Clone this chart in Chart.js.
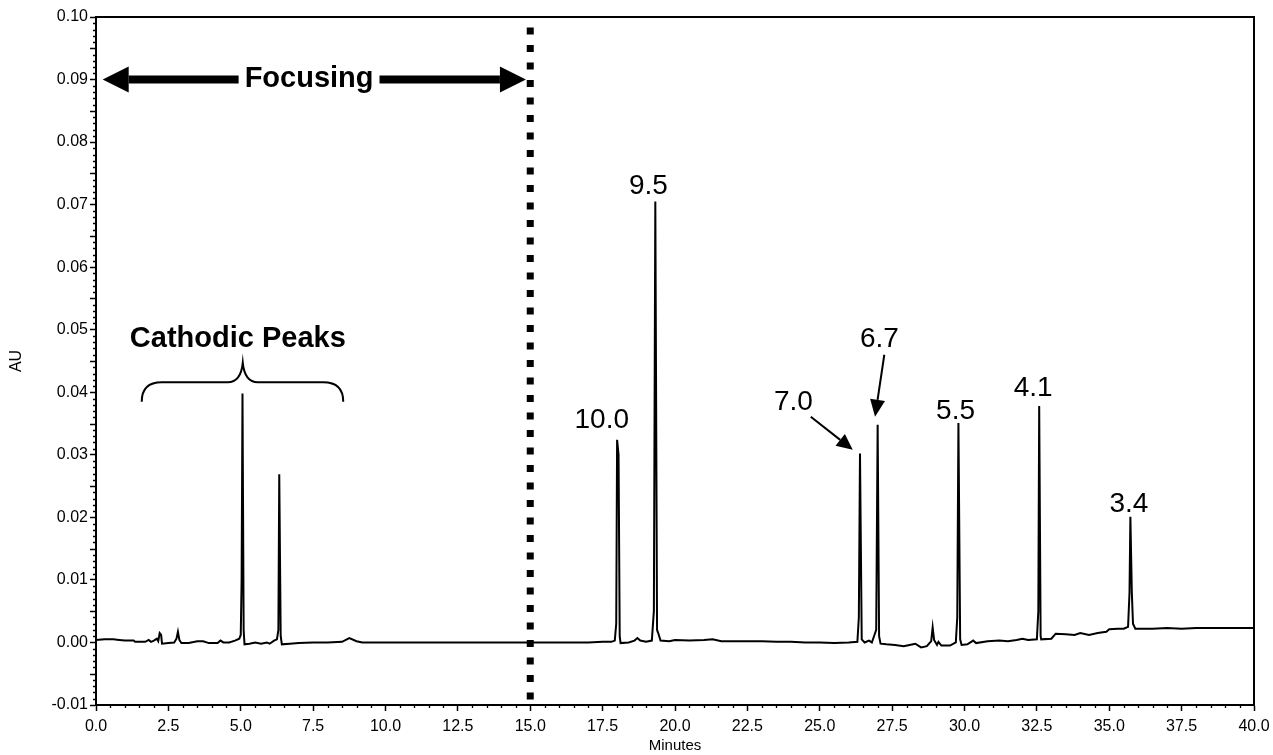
<!DOCTYPE html>
<html><head><meta charset="utf-8">
<script src="https://cdn.jsdelivr.net/npm/chart.js@4.4.1/dist/chart.umd.min.js"></script>
<style>html,body{margin:0;padding:0;background:#fff;}canvas{display:block;}</style>
</head><body>
<canvas id="c" width="1273" height="755"></canvas>
<script>
// ---- data ----
const minutes = [
 0.0,0.3,0.6,0.8,1.0,1.3,1.35,1.7,1.82,1.9,2.0,2.1,2.15,2.2,2.25,2.28,2.5,2.7,2.78,2.83,2.88,2.95,3.2,3.5,3.7,3.9,4.2,4.3,4.4,4.6,4.8,4.95,5.0,5.03,5.06,5.1,5.13,5.3,5.5,5.7,5.9,6.0,6.15,6.25,6.3,6.33,6.38,6.42,6.7,7.0,7.5,8.0,8.5,8.75,9.0,9.2,10.0,11.0,12.0,13.0,14.0,15.0,16.0,17.0,17.5,17.8,17.92,17.97,18.0,18.05,18.09,18.12,18.4,18.6,18.7,18.8,19.0,19.2,19.27,19.32,19.38,19.42,19.5,19.8,20.0,20.5,21.0,21.3,21.6,22.0,22.5,23.0,23.5,24.0,24.5,25.0,25.5,26.0,26.3,26.35,26.39,26.45,26.55,26.7,26.8,26.95,27.0,27.05,27.1,27.3,27.6,27.9,28.1,28.3,28.5,28.7,28.85,28.9,28.95,29.05,29.1,29.2,29.5,29.7,29.75,29.79,29.85,29.9,30.1,30.3,30.4,30.8,31.2,31.5,31.8,32.0,32.2,32.5,32.55,32.58,32.63,32.65,33.0,33.15,33.5,33.8,34.0,34.3,34.6,34.9,35.0,35.3,35.5,35.65,35.7,35.73,35.78,35.82,35.9,36.5,37.0,37.5,38.0,40.0
];
const absorbance = [
 0.0004,0.0005,0.0005,0.0004,0.0003,0.0003,0.0001,0.0001,0.0004,0.0001,0.0003,0.0006,0.0002,0.0015,0.0012,-0.0002,-0.0001,0.0000,0.0006,0.0017,0.0004,-0.0001,-0.0001,0.0002,0.0002,-0.0001,-0.0001,0.0003,0.0000,0.0000,0.0003,0.0006,0.0012,0.0100,0.0398,0.0020,-0.0003,-0.0002,0.0000,-0.0002,0.0000,-0.0002,0.0003,0.0005,0.0020,0.0269,0.0010,-0.0003,-0.0002,-0.0001,0.0000,0.0000,0.0001,0.0007,0.0002,0.0000,0.0000,0.0000,0.0000,0.0000,0.0000,0.0000,0.0000,0.0000,0.0001,0.0001,0.0003,0.0030,0.0324,0.0300,0.0010,-0.0001,0.0000,0.0003,0.0007,0.0003,0.0001,0.0003,0.0050,0.0705,0.0020,0.0015,0.0003,0.0002,0.0004,0.0003,0.0004,0.0005,0.0002,0.0002,0.0002,0.0002,0.0001,0.0001,0.0000,0.0000,-0.0001,0.0000,0.0001,0.0040,0.0302,0.0005,0.0000,0.0003,0.0000,0.0020,0.0348,0.0010,-0.0002,-0.0003,-0.0004,-0.0006,-0.0004,-0.0002,-0.0008,-0.0006,0.0002,0.0024,0.0004,-0.0004,0.0001,-0.0005,-0.0005,0.0000,0.0040,0.0351,0.0005,-0.0004,-0.0003,0.0003,-0.0001,0.0002,0.0003,0.0002,0.0004,0.0006,0.0004,0.0005,0.0050,0.0378,0.0010,0.0005,0.0006,0.0014,0.0013,0.0012,0.0015,0.0012,0.0015,0.0017,0.0021,0.0022,0.0022,0.0025,0.0080,0.0201,0.0080,0.0030,0.0022,0.0022,0.0023,0.0022,0.0023,0.0023
];
const xTickLabels = ['0.0','2.5','5.0','7.5','10.0','12.5','15.0','17.5','20.0','22.5','25.0','27.5','30.0','32.5','35.0','37.5','40.0'];
const yTickLabels = ['-0.01','0.00','0.01','0.02','0.03','0.04','0.05','0.06','0.07','0.08','0.09','0.10'];
const peakLabels = ['10.0','9.5','7.0','6.7','5.5','4.1','3.4'];

// ---- annotation placement (data coordinates) ----
const peakLabelPos = [[17.47,0.0343],[19.08,0.0717],[24.09,0.0371],[27.06,0.0472],[29.69,0.0358],[32.37,0.0394],[35.68,0.0208]];
const FONT = '"Liberation Sans", Arial, Helvetica, sans-serif';

function arrow(ctx,x1,y1,x2,y2,hl,hw,lw){
  const dx=x2-x1, dy=y2-y1, L=Math.hypot(dx,dy), ux=dx/L, uy=dy/L;
  const bx=x2-ux*hl, by=y2-uy*hl;
  ctx.lineWidth=lw; ctx.beginPath(); ctx.moveTo(x1,y1); ctx.lineTo(bx,by); ctx.stroke();
  ctx.beginPath(); ctx.moveTo(x2,y2); ctx.lineTo(bx-uy*hw,by+ux*hw); ctx.lineTo(bx+uy*hw,by-ux*hw); ctx.closePath(); ctx.fill();
}

const overlay = {
  id:'overlay',
  afterDraw(chart){
    const {ctx, chartArea:a, scales:{x,y}} = chart;
    const X=v=>x.getPixelForValue(v), Y=v=>y.getPixelForValue(v);
    ctx.save();
    ctx.strokeStyle='#000'; ctx.fillStyle='#000';
    ctx.lineWidth=2;
    ctx.strokeRect(a.left,a.top,a.right-a.left,a.bottom-a.top);
    ctx.lineWidth=1.3;
    ctx.beginPath();
    for(let i=0;i<=80;i++){ if(i%5===0) continue; const px=Math.round(X(i*0.5))+0.5; ctx.moveTo(px,a.bottom); ctx.lineTo(px,a.bottom+3); }
    for(let i=-10;i<=100;i++){ if(i%10===0) continue; const py=Math.round(Y(i/1000))+0.5; const len=(i%5===0)?6:3; ctx.moveTo(a.left-len,py); ctx.lineTo(a.left,py); }
    ctx.stroke();
    ctx.save();
    ctx.lineWidth=7; ctx.setLineDash([7,10.5]); ctx.lineDashOffset=7;
    ctx.beginPath(); ctx.moveTo(X(15),a.top); ctx.lineTo(X(15),a.bottom); ctx.stroke();
    ctx.restore();
    const fy=Y(0.09), fl=X(0.23), fr=X(14.85), fc=X(7.36);
    ctx.font='bold 29px '+FONT; ctx.textAlign='center'; ctx.textBaseline='alphabetic';
    const tw=ctx.measureText('Focusing').width;
    arrow(ctx, fc-tw/2-6, fy, fl, fy, 26, 13, 8);
    arrow(ctx, fc+tw/2+6, fy, fr, fy, 26, 13, 8);
    ctx.fillText('Focusing', fc, fy+7.5);
    ctx.fillText('Cathodic Peaks', X(4.9), Y(0.0473));
    const bl=X(1.58), br=X(8.54), bm=X(5.07), be=Y(0.0385), bh=Y(0.0416), bt=Y(0.0447);
    ctx.lineWidth=2; ctx.beginPath();
    ctx.moveTo(bl,be);
    ctx.quadraticCurveTo(bl,bh,bl+20,bh);
    ctx.lineTo(bm-15,bh);
    ctx.quadraticCurveTo(bm-2,bh,bm,bt);
    ctx.quadraticCurveTo(bm+2,bh,bm+15,bh);
    ctx.lineTo(br-20,bh);
    ctx.quadraticCurveTo(br,bh,br,be);
    ctx.stroke();
    ctx.font='28px '+FONT;
    peakLabels.forEach((t,i)=>ctx.fillText(t, X(peakLabelPos[i][0]), Y(peakLabelPos[i][1])));
    arrow(ctx, X(24.69),Y(0.0361), X(26.14),Y(0.0308), 16, 7.5, 2);
    arrow(ctx, X(27.23),Y(0.0460), X(26.91),Y(0.0361), 17, 7.5, 2);
    ctx.restore();
  }
};

const xVals = xTickLabels.map(Number), yVals = yTickLabels.map(Number);
new Chart(document.getElementById('c'), {
  type:'line',
  data:{ datasets:[{
    data: minutes.map((m,i)=>({x:m,y:absorbance[i]})),
    borderColor:'#000', borderWidth:2, pointRadius:0, tension:0, fill:false
  }]},
  options:{
    responsive:false, animation:false, devicePixelRatio:1,
    layout:{padding:{top:17,right:19,left:0,bottom:0}},
    plugins:{legend:{display:false}, tooltip:{enabled:false}},
    scales:{
      x:{ type:'linear', min:0, max:40,
        afterBuildTicks:s=>{ s.ticks=xVals.map(v=>({value:v})); },
        afterFit:s=>{ s.height=50; s.paddingLeft=0; s.paddingRight=0; },
        ticks:{ color:'#000', font:{family:FONT,size:16}, padding:6, maxRotation:0, autoSkip:false,
          callback:(v)=>xTickLabels[xVals.indexOf(v)] ?? '' },
        grid:{ drawOnChartArea:false, tickLength:6, tickColor:'#000', tickWidth:1.5 },
        border:{ color:'#000', width:2 },
        title:{ display:true, text:'Minutes', color:'#000', font:{family:FONT,size:15}, padding:{top:0,bottom:0} }
      },
      y:{ type:'linear', min:-0.01, max:0.10,
        afterBuildTicks:s=>{ s.ticks=yVals.map(v=>({value:v})); },
        afterFit:s=>{ s.width=96; },
        ticks:{ color:'#000', font:{family:FONT,size:16}, padding:2, autoSkip:false,
          callback:(v)=>{ const k=yVals.findIndex(t=>Math.abs(t-v)<1e-9); return k>=0?yTickLabels[k]:''; } },
        grid:{ drawOnChartArea:false, tickLength:6, tickColor:'#000', tickWidth:1.5 },
        border:{ color:'#000', width:2 },
        title:{ display:true, text:'AU', color:'#000', font:{family:FONT,size:16}, padding:{top:7,bottom:0} }
      }
    }
  },
  plugins:[overlay]
});
</script>
</body></html>
